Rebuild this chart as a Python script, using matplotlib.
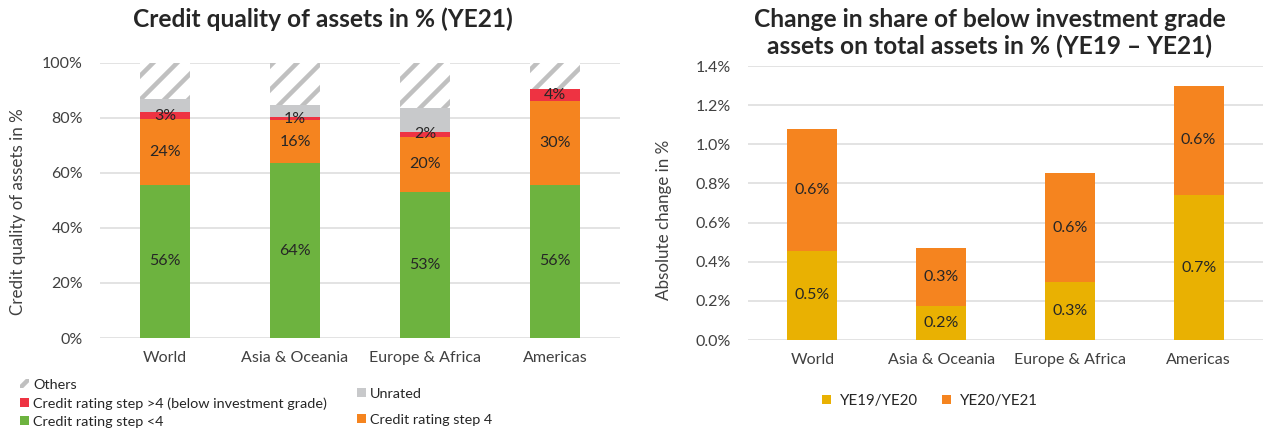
import matplotlib
matplotlib.use("Agg")
import matplotlib.pyplot as plt
import numpy as np
from matplotlib.ticker import FuncFormatter

plt.rcParams["font.family"] = ["Lato", "DejaVu Sans"]
plt.rcParams["hatch.linewidth"] = 4.5

# left chart: credit quality of assets in % (YE21)
regions = ["World", "Asia & Oceania", "Europe & Africa", "Americas"]
step_lt4 = [55.7, 63.6, 53.2, 55.7]
step_4 = [23.8, 15.6, 20.0, 30.4]
step_gt4 = [2.7, 1.1, 1.7, 4.3]
unrated = [4.6, 4.5, 8.8, 0.0]
others = [13.2, 15.2, 16.3, 9.6]

# right chart: change in share of below investment grade assets (pp)
ye19_ye20 = [0.457, 0.175, 0.297, 0.740]
ye20_ye21 = [0.622, 0.297, 0.555, 0.560]

GREEN = "#6DB33F"
ORANGE = "#F5841F"
RED = "#EE3342"
GREY = "#C8C9CB"
HATCH_GREY = "#C0C0C0"
GOLD = "#E9B102"
GRID = "#DDDDDD"
TICK = "#404040"
TXT = "#262626"

FS = 16  # ticks, data labels
W, H = 1263, 429
fig = plt.figure(figsize=(W / 72, H / 72), dpi=72)


def px_axes(x0, x1, y_top, y_bot):
    return fig.add_axes([x0 / W, 1 - y_bot / H, (x1 - x0) / W, (y_bot - y_top) / H])


def style(ax):
    for s in ax.spines.values():
        s.set_visible(False)
    ax.grid(axis="y", color=GRID, linewidth=1.6)
    ax.set_axisbelow(True)
    ax.tick_params(length=0, labelsize=FS, colors=TICK)
    ax.tick_params(axis="y", pad=17)
    ax.tick_params(axis="x", pad=13)
    ax.set_xlim(-0.5, 3.5)


x = np.arange(len(regions))
bw = 0.39

# ---- left
ax1 = px_axes(100, 620, 63, 338)
style(ax1)
bottom = np.zeros(len(regions))
bars = {}
for name, vals, col in [("lt4", step_lt4, GREEN), ("s4", step_4, ORANGE),
                        ("gt4", step_gt4, RED), ("unr", unrated, GREY)]:
    bars[name] = ax1.bar(x, vals, bw, bottom=bottom, color=col, linewidth=0)
    if name != "unr":
        for xi, b, v in zip(x, bottom, vals):
            ax1.text(xi, b + v / 2, f"{v:.0f}%", ha="center", va="center",
                     fontsize=FS, color=TXT)
    bottom = bottom + np.array(vals)
bars["oth"] = ax1.bar(x, others, bw, bottom=bottom, color="white",
                      edgecolor=HATCH_GREY, hatch="/", linewidth=0)
ax1.set_ylim(0, 100)
ax1.set_yticks(range(0, 101, 20))
ax1.yaxis.set_major_formatter(FuncFormatter(lambda v, p: f"{v:.0f}%"))
ax1.set_xticks(x, regions)
fig.text(18 / W, 1 - 212 / H, "Credit quality of assets in %", rotation=90,
         ha="center", va="center", fontsize=17, color=TICK)
fig.text(323 / W, 1 - 19 / H, "Credit quality of assets in % (YE21)",
         ha="center", va="center", fontsize=24.5, fontweight="bold", color=TXT)

leg_kw = dict(frameon=False, fontsize=14.4, handlelength=0.6, handleheight=0.6,
              handletextpad=0.3, borderpad=0, borderaxespad=0, labelcolor=TXT)
fig.legend([bars["oth"], bars["gt4"], bars["lt4"]],
           ["Others", "Credit rating step >4 (below investment grade)",
            "Credit rating step <4"],
           loc="upper left", bbox_to_anchor=(20 / W, 1 - 379 / H),
           labelspacing=0.42, **leg_kw)
fig.legend([bars["unr"], bars["s4"]], ["Unrated", "Credit rating step 4"],
           loc="upper left", bbox_to_anchor=(357 / W, 1 - 388 / H),
           labelspacing=0.95, **leg_kw)

# ---- right
ax2 = px_axes(748, 1263, 66, 340)
style(ax2)
b1 = ax2.bar(x, ye19_ye20, bw, color=GOLD, linewidth=0)
b2 = ax2.bar(x, ye20_ye21, bw, bottom=ye19_ye20, color=ORANGE, linewidth=0)
for xi, a, b in zip(x, ye19_ye20, ye20_ye21):
    ax2.text(xi, a / 2, f"{a:.1f}%", ha="center", va="center", fontsize=FS, color=TXT)
    ax2.text(xi, a + b / 2, f"{b:.1f}%", ha="center", va="center", fontsize=FS, color=TXT)
ax2.set_ylim(0, 1.4)
ax2.set_yticks(np.arange(0, 1.41, 0.2))
ax2.yaxis.set_major_formatter(FuncFormatter(lambda v, p: f"{v:.1f}%"))
ax2.set_xticks(x, regions)
fig.text(664 / W, 1 - 220 / H, "Absolute change in %", rotation=90,
         ha="center", va="center", fontsize=17, color=TICK)
fig.text(990 / W, 1 - 33 / H,
         "Change in share of below investment grade\nassets on total assets in % (YE19 \u2013 YE21)",
         ha="center", va="center", fontsize=24.5, fontweight="bold", color=TXT,
         linespacing=1.15)
fig.legend([b1, b2], ["YE19/YE20", "YE20/YE21"], loc="center",
           bbox_to_anchor=(930 / W, 1 - 401 / H), ncol=2, columnspacing=1.6,
           **{**leg_kw, "handletextpad": 0.6, "fontsize": 15})

fig.savefig("out.png", dpi=72)
